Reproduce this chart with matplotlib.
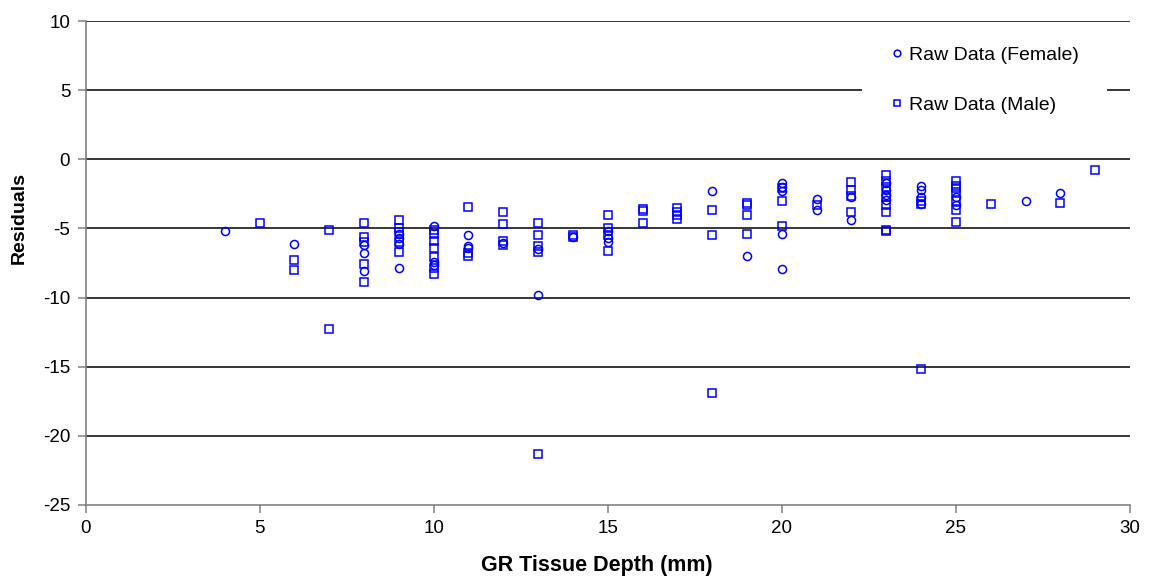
import matplotlib
matplotlib.use("Agg")
import matplotlib.pyplot as plt
from matplotlib.patches import Rectangle
from matplotlib.lines import Line2D

plt.rcParams['font.family'] = ['Liberation Sans', 'DejaVu Sans']
plt.rcParams['axes.unicode_minus'] = False

# Female (circles)
female_x = [4, 6, 8, 8, 8, 9, 9, 9, 9, 10, 10, 10, 11, 11, 11, 12, 13, 13, 14,
            15, 15, 15, 18, 19, 20, 20, 20, 20, 20, 21, 21, 22, 22,
            23, 23, 23, 23, 24, 24, 24, 24, 25, 25, 27, 28]
female_y = [-5.2, -6.1, -6.2, -6.8, -8.1, -5.4, -5.7, -6.1, -7.85, -4.8, -7.4, -7.65,
            -5.5, -6.3, -6.45, -6.05, -6.5, -9.8, -5.6,
            -5.2, -5.7, -6.0, -2.3, -7.0, -1.7, -2.0, -2.3, -5.4, -7.9, -2.9, -3.7,
            -2.75, -4.4, -1.75, -2.2, -2.55, -2.95, -1.9, -2.2, -2.7, -3.2,
            -2.7, -3.3, -3.05, -2.45]

# Male (squares)
male_x = [5, 6, 6, 7, 7, 8, 8, 8, 8, 8, 9, 9, 9, 9, 9,
          10, 10, 10, 10, 10, 10, 10, 11, 11, 11, 12, 12, 12, 12,
          13, 13, 13, 13, 13, 14, 14, 15, 15, 15, 15, 16, 16, 16,
          17, 17, 17, 17, 18, 18, 18, 19, 19, 19, 19, 20, 20, 20, 21,
          22, 22, 22, 22, 23, 23, 23, 23, 23, 23, 23, 23, 24, 24, 24,
          25, 25, 25, 25, 25, 25, 25, 26, 28, 29]
male_y = [-4.6, -7.3, -8.0, -5.1, -12.3, -4.6, -5.6, -6.0, -7.6, -8.9,
          -4.4, -5.0, -5.25, -6.0, -6.7,
          -5.1, -5.4, -5.9, -6.45, -7.1, -7.85, -8.3, -3.45, -6.8, -7.0,
          -3.8, -4.7, -5.9, -6.2, -4.6, -5.5, -6.3, -6.7, -21.3, -5.5, -5.65,
          -4.05, -5.0, -5.5, -6.6, -3.6, -3.75, -4.6,
          -3.55, -3.8, -4.05, -4.35, -3.7, -5.5, -16.9, -3.15, -3.3, -4.05, -5.4,
          -2.1, -3.0, -4.8, -3.3,
          -1.65, -2.2, -2.65, -3.8, -1.15, -1.6, -2.0, -2.75, -3.3, -3.8, -5.1, -5.2,
          -3.0, -3.25, -15.2,
          -1.55, -1.9, -2.1, -2.35, -3.05, -3.7, -4.5, -3.25, -3.15, -0.75]

x_ticks = [0, 5, 10, 15, 20, 25, 30]
y_ticks = [-25, -20, -15, -10, -5, 0, 5, 10]
grid_levels = [-20, -15, -10, -5, 0, 5, 10]

W, H = 1149, 581
AX_L, AX_R, AX_T, AX_B = 85.5, 1130, 21, 505
fig = plt.figure(figsize=(W / 100, H / 100), dpi=100)
ax = fig.add_axes([AX_L / W, 1 - AX_B / H, (AX_R - AX_L) / W, (AX_B - AX_T) / H])
aw, ah = AX_R - AX_L, AX_B - AX_T

ax.set_xlim(0, 30)
ax.set_ylim(-25, 10)

for g in grid_levels:
    ax.axhline(g, color='black', lw=1.1, zorder=0.5)

# white legend background covering grid
ax.add_patch(Rectangle(((862 - AX_L) / aw, (AX_B - 135) / ah), (1107 - 862) / aw, 100 / ah,
                       transform=ax.transAxes, facecolor='white', edgecolor='none', zorder=1))

blue = '#0000FF'
ms = 5.8
ax.plot(female_x, female_y, linestyle='none', marker='o', ms=ms, mfc='none',
        mec=blue, mew=1.1, zorder=3, clip_on=False)
ax.plot(male_x, male_y, linestyle='none', marker='s', ms=ms, mfc='none',
        mec=blue, mew=1.1, zorder=3, clip_on=False)

handles = [Line2D([], [], linestyle='none', marker='o', ms=4.8, mfc='none', mec=blue, mew=1.1),
           Line2D([], [], linestyle='none', marker='s', ms=4.8, mfc='none', mec=blue, mew=1.1)]
leg = ax.legend(handles, ['Raw Data (Female)', 'Raw Data (Male)'],
                loc='upper left', bbox_to_anchor=((891 - AX_L) / aw, (AX_B - 46) / ah),
                frameon=False, fontsize=14, labelspacing=1.68, handlelength=0.6,
                handletextpad=0.35, borderpad=0.0, borderaxespad=0.0)
leg.set_zorder(5)

for s in ['top', 'right']:
    ax.spines[s].set_visible(False)
for s in ['left', 'bottom']:
    ax.spines[s].set_color('#808080')
    ax.spines[s].set_linewidth(1.2)

ax.set_xticks(x_ticks)
ax.set_yticks(y_ticks)
ax.tick_params(axis='both', direction='out', length=6, width=1.1, color='#808080',
               labelsize=13.5, labelcolor='black')
ax.tick_params(axis='x', pad=5)
ax.tick_params(axis='y', pad=5)

ax.set_xlabel('GR Tissue Depth (mm)', fontsize=15.5, fontweight='bold')
ax.set_ylabel('Residuals', fontsize=14, fontweight='bold')
ax.xaxis.set_label_coords((597 - AX_L) / aw, (AX_B - 566) / ah)
ax.xaxis.label.set_va('center')
ax.yaxis.set_label_coords((19 - AX_L) / aw, (AX_B - 218) / ah)
ax.yaxis.label.set_va('center')

fig.savefig('out.png', dpi=100)
